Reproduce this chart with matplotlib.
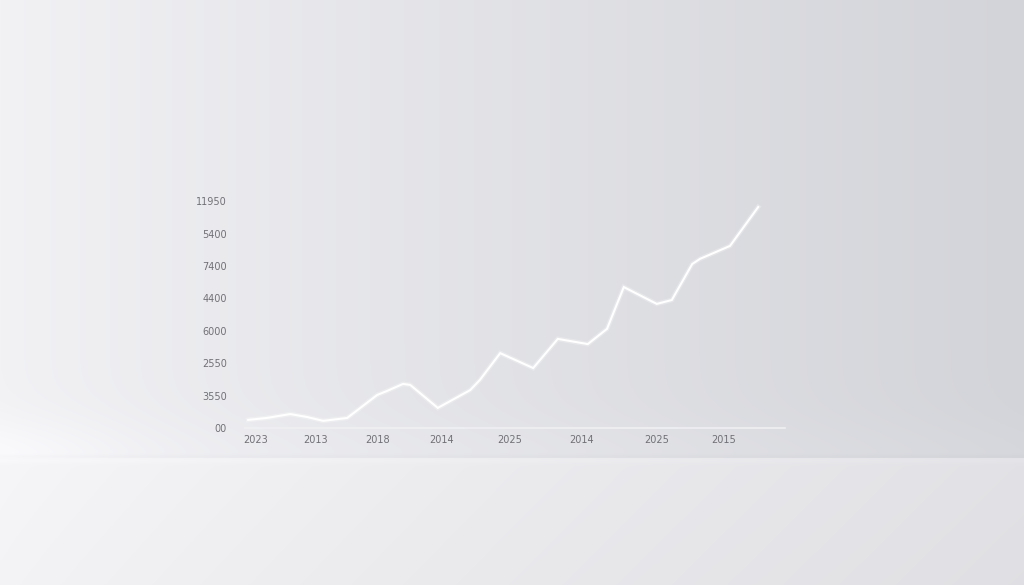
import matplotlib

matplotlib.use("Agg")
import matplotlib.pyplot as plt
import numpy as np

# tick labels as they appear in the picture
x_labels = ["2023", "2013", "2018", "2014", "2025", "2014", "2025", "2015"]
x_ticks = [0.0, 1.0, 2.03, 3.1, 4.23, 5.43, 6.68, 7.8]
y_labels = ["00", "3550", "2550", "6000", "4400", "7400", "5400", "11950"]
y_ticks = [0, 1, 2, 3, 4, 5, 6, 7]

# series, in tick units
line_x = [-0.13, 0.18, 0.57, 0.85, 1.12, 1.52, 2.02, 2.18, 2.45, 2.57,
          3.03, 3.57, 3.73, 4.07, 4.62, 5.03, 5.53, 5.85, 6.13, 6.68,
          6.93, 7.27, 7.4, 7.9, 8.37]
line_y = [0.25, 0.31, 0.43, 0.34, 0.22, 0.31, 1.02, 1.14, 1.36, 1.33,
          0.62, 1.17, 1.48, 2.31, 1.85, 2.75, 2.59, 3.06, 4.35, 3.83,
          3.95, 5.06, 5.22, 5.62, 6.82]

W, H = 1024, 585
fig = plt.figure(figsize=(W / 100, H / 100), dpi=100)

# backdrop: wall with left-to-right gradient, floor below a soft seam
bg = fig.add_axes([0, 0, 1, 1])
bg.set_axis_off()
xs = np.linspace(0, 1, W)
wall_left = np.array([0xf2, 0xf2, 0xf5]) / 255
wall_right = np.array([0xd3, 0xd4, 0xd9]) / 255
floor_left = np.array([0xf6, 0xf6, 0xf8]) / 255
floor_right = np.array([0xe2, 0xe2, 0xe6]) / 255
t = xs ** 0.9
wall = wall_left[None, :] * (1 - t[:, None]) + wall_right[None, :] * t[:, None]
floor = floor_left[None, :] * (1 - t[:, None]) + floor_right[None, :] * t[:, None]
# light pooling at the lower left of the wall
glow = np.exp(-(xs / 0.12) ** 2)
img = np.empty((H, W, 3))
seam = 458
for row in range(H):
    if row < seam:
        near = np.exp(-((seam - row) / 40.0) ** 2)
        img[row] = wall + (0.012 + 0.02 * glow[:, None]) * near
        img[row] -= 0.012 * np.exp(-((row - (seam - 2)) / 2.0) ** 2)
    else:
        k = min((row - seam) / 127.0, 1.0)
        img[row] = floor * (1 - 0.01 * k) + 0.01 * np.exp(-((row - seam - 2) / 3.0) ** 2)
img = np.clip(img, 0, 1)
bg.imshow(img, extent=(0, W, H, 0), aspect="auto", interpolation="bilinear")
bg.set_xlim(0, W)
bg.set_ylim(H, 0)

# chart area: px = 256 + 60 * x, py = 428 - 32.4 * y
left_px, right_px, bottom_px, top_px = 245, 785, 428, 195
ax = fig.add_axes([
    left_px / W,
    (H - bottom_px) / H,
    (right_px - left_px) / W,
    (bottom_px - top_px) / H,
])
ax.patch.set_alpha(0)
ax.set_xlim((left_px - 256) / 60, (right_px - 256) / 60)
ax.set_ylim(0, (bottom_px - top_px) / 32.4)

ax.plot(line_x, line_y, color="white", linewidth=3.5, alpha=0.25,
        solid_joinstyle="miter", clip_on=False)
ax.plot(line_x, line_y, color="white", linewidth=1.5,
        solid_joinstyle="miter", clip_on=False)

for side in ("top", "right", "left"):
    ax.spines[side].set_visible(False)
ax.spines["bottom"].set_color("#f0f0f3")
ax.spines["bottom"].set_linewidth(1.2)

ax.set_xticks(x_ticks)
ax.set_xticklabels(x_labels)
ax.set_yticks(y_ticks)
ax.set_yticklabels(y_labels)
ax.tick_params(axis="both", length=0, labelsize=7, labelcolor="#707076")
ax.tick_params(axis="x", pad=5)
ax.tick_params(axis="y", pad=13)

fig.savefig("out.png", dpi=100)
